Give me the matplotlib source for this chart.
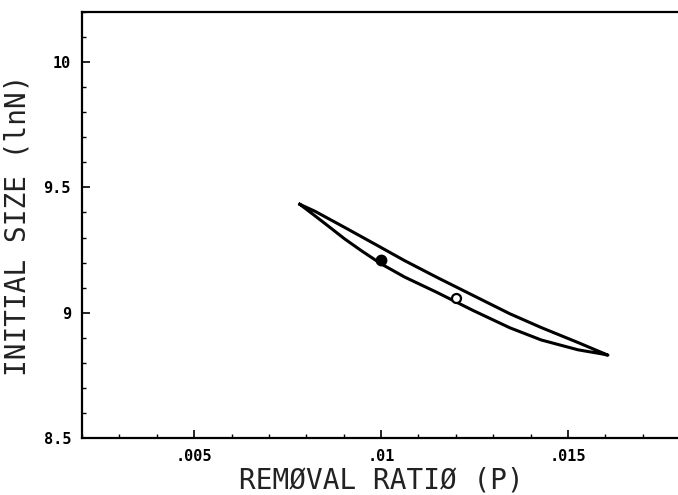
import numpy as np
import matplotlib
matplotlib.use("Agg")
import matplotlib.pyplot as plt
from matplotlib.ticker import MultipleLocator

# upper and lower branches of the closed contour (P, lnN)
upper_p = [0.007829, 0.008230, 0.009032, 0.009834, 0.010636, 0.011484,
           0.012463, 0.013444, 0.014291, 0.015270, 0.016072]
upper_n = [9.4325, 9.405, 9.340, 9.274, 9.2075, 9.142,
           9.069, 8.996, 8.9405, 8.881, 8.8306]
lower_p = [0.007829, 0.008230, 0.008586, 0.009032, 0.009479, 0.010013,
           0.010636, 0.011484, 0.012463, 0.013444, 0.014291, 0.015270,
           0.015896, 0.016072]
lower_n = [9.4325, 9.387, 9.346, 9.294, 9.247, 9.194,
           9.142, 9.082, 9.009, 8.940, 8.891, 8.852,
           8.836, 8.8306]

filled_p, filled_n = [0.0100], [9.212]
open_p, open_n = [0.0120], [9.060]

xticks = [0.005, 0.01, 0.015]
xtick_labels = ['.005', '.01', '.015']
yticks = [8.5, 9, 9.5, 10]
ytick_labels = ['8.5', '9', '9.5', '10']

fig = plt.figure(figsize=(6.78, 4.95), dpi=100)
ax = fig.add_axes([82/678, 57/495, 598/678, 426/495])

cp = upper_p + lower_p[::-1]
cn = upper_n + lower_n[::-1]
ax.plot(cp, cn, color='black', lw=2.2, solid_joinstyle='round')
ax.plot(filled_p, filled_n, 'o', color='black', ms=7.5)
ax.plot(open_p, open_n, 'o', mfc='white', mec='black', mew=1.6, ms=6.5)

ax.set_xlim(0.002, 0.018)
ax.set_ylim(8.5, 10.2)
ax.set_xticks(xticks)
ax.set_xticklabels(xtick_labels)
ax.set_yticks(yticks)
ax.set_yticklabels(ytick_labels)
ax.xaxis.set_minor_locator(MultipleLocator(0.001))
ax.yaxis.set_minor_locator(MultipleLocator(0.1))
ax.tick_params(which='major', direction='in', length=6, width=1.2, pad=8)
ax.tick_params(which='minor', direction='in', length=3, width=1.0)
ax.tick_params(top=False, right=False)
for lab in ax.get_xticklabels() + ax.get_yticklabels():
    lab.set_fontfamily('DejaVu Sans Mono')
    lab.set_fontweight('bold')
    lab.set_fontsize(11)
for s in ax.spines.values():
    s.set_linewidth(1.6)

ax.set_xlabel('REMØVAL RATIØ (P)', fontsize=20, family='DejaVu Sans Mono',
              color='#222222')
ax.set_ylabel('INITIAL SIZE (lnN)', fontsize=20, family='DejaVu Sans Mono',
              color='#222222')
ax.xaxis.set_label_coords(0.5, -0.068)
ax.yaxis.set_label_coords(-0.084, 0.5)

fig.savefig('out.png', dpi=100)
